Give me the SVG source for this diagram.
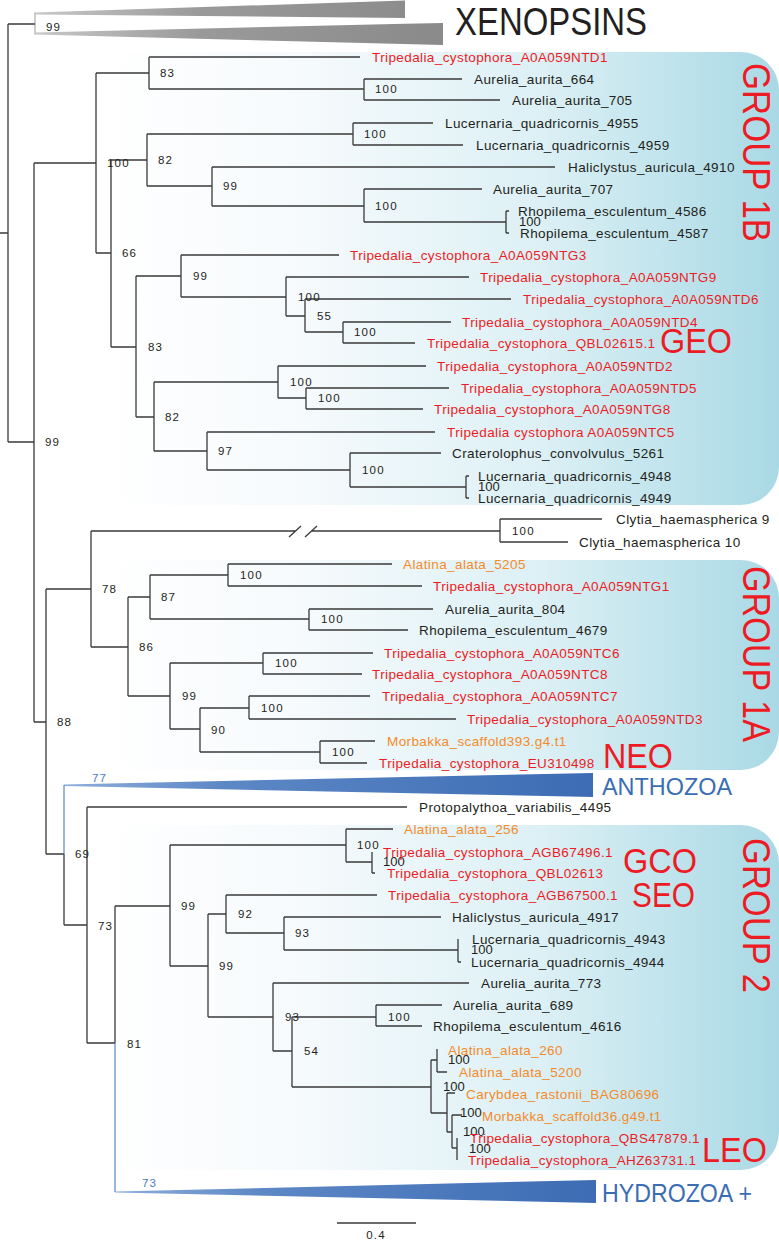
<svg xmlns="http://www.w3.org/2000/svg" width="779" height="1241" viewBox="0 0 779 1241">
<defs>
<linearGradient id="box" gradientUnits="userSpaceOnUse" x1="100" y1="0" x2="779" y2="0">
<stop offset="0" stop-color="#ffffff"/>
<stop offset="0.3" stop-color="#f6fafc"/>
<stop offset="0.65" stop-color="#dcf0f5"/>
<stop offset="1" stop-color="#a9d9e5"/>
</linearGradient>
<linearGradient id="gray" gradientUnits="userSpaceOnUse" x1="35" y1="0" x2="443" y2="0">
<stop offset="0" stop-color="#c8c8c8"/>
<stop offset="0.4" stop-color="#9a9a9a"/>
<stop offset="1" stop-color="#8a8a8a"/>
</linearGradient>
<linearGradient id="blueA" gradientUnits="userSpaceOnUse" x1="64" y1="0" x2="593" y2="0">
<stop offset="0" stop-color="#8eaedb"/>
<stop offset="0.3" stop-color="#5d88c6"/>
<stop offset="1" stop-color="#3d6cb4"/>
</linearGradient>
<linearGradient id="blueH" gradientUnits="userSpaceOnUse" x1="115" y1="0" x2="596" y2="0">
<stop offset="0" stop-color="#8eaedb"/>
<stop offset="0.3" stop-color="#5d88c6"/>
<stop offset="1" stop-color="#3d6cb4"/>
</linearGradient>
<style>
.br{fill:none;stroke:#3a3a3a;stroke-width:1.3}
.bb{fill:none;stroke:#4a7cc0;stroke-width:1.1}
.lf{font-family:"Liberation Sans",Arial,Helvetica,sans-serif;font-size:13.5px;letter-spacing:0.4px;fill:#231f20}
.r{fill:#ed1c24}
.o{fill:#f48b2a}
.sv{font-family:"Liberation Sans",Arial,Helvetica,sans-serif;font-size:11.5px;letter-spacing:1.2px;fill:#231f20}
.sm{font-family:"Liberation Sans",Arial,Helvetica,sans-serif;font-size:13px;fill:#231f20}
.bsv{font-family:"Liberation Sans",Arial,Helvetica,sans-serif;font-size:11.5px;letter-spacing:1.2px;fill:#4a7cc0}
.big{font-family:"Liberation Sans",Arial,Helvetica,sans-serif;fill:#ed1c24}
.blu{font-family:"Liberation Sans",Arial,Helvetica,sans-serif;fill:#3b6db4}
.grp{fill:url(#box)}
</style>
</defs>
<rect width="779" height="1241" fill="#ffffff"/>

<g id="group-1B-box"><rect class="grp" x="100" y="52" width="679" height="453" rx="38"/></g>
<g id="group-1A-box"><rect class="grp" x="100" y="560" width="679" height="210" rx="38"/></g>
<g id="group-2-box"><rect class="grp" x="100" y="825" width="679" height="345" rx="38"/></g>

<g id="xenopsins">
<polygon points="35,12.5 405,0.5 405,18 35,14.5" fill="url(#gray)"/>
<polygon points="35,32.5 405,23.8 443,23 443,45 35,34.5" fill="url(#gray)"/>
<line x1="35" y1="12.5" x2="35" y2="34.5" stroke="#bdbdbd" stroke-width="1.5"/>
<text x="46" y="31" class="sv">99</text>
<text x="455" y="35" class="big" style="fill:#231f20" font-size="39" textLength="192" lengthAdjust="spacingAndGlyphs">XENOPSINS</text>
</g>

<g id="anthozoa">
<polygon points="64,784.5 593,773 593,797 64,786" fill="url(#blueA)"/>
<text x="92" y="782" class="bsv">77</text>
<text x="602" y="795" class="blu" font-size="24" textLength="130" lengthAdjust="spacingAndGlyphs">ANTHOZOA</text>
</g>

<g id="hydrozoa">
<polygon points="115,1191.5 596,1180 596,1203 115,1192.5" fill="url(#blueH)"/>
<text x="142" y="1187" class="bsv">73</text>
<text x="602" y="1202" class="blu" font-size="26" textLength="150" lengthAdjust="spacingAndGlyphs">HYDROZOA +</text>
</g>

<g id="connectors">
<path class="br" d="M0,233H8 M8,24V442 M8,24H35 M8,442H34
M34,163V722 M34,163H96 M34,722H46
M96,73V253 M96,73H149 M96,253H111
M149,57V89 M149,57H360 M149,89H364
M364,79V100 M364,79H462 M364,100H500
M111,160V347 M111,160H147 M111,347H136
M147,134V186 M147,134H353 M147,186H212
M353,123V145 M353,123H433 M353,145H463
M212,167V206 M212,167H555 M212,206H364
M364,189V222 M364,189H482 M364,222H506
M506,211V233 M506,211H509 M506,233H509
M136,276V417 M136,276H181 M136,417H154
M181,255V297 M181,255H339 M181,297H286
M286,277V316 M286,277H469 M286,316H305
M305,299V332 M305,299H511 M305,332H343
M343,322V343 M343,322H451 M343,343H415
M154,382V451 M154,382H278 M154,451H207
M278,366V398 M278,366H426 M278,398H306
M306,388V409 M306,388H449 M306,409H423
M207,432V470 M207,432H435 M207,470H350
M350,453V487 M350,453H441 M350,487H466
M466,476V498 M466,476H469 M466,498H469
M46,589V854 M46,589H91 M46,854H64
M91,531V647 M91,531H295 M311,531H500 M91,647H128
M289,537L301,526 M305,537L317,526
M500,519V542 M500,519H602 M500,542H568
M128,597V696 M128,597H150 M128,696H170
M150,575V619 M150,575H228 M150,619H309
M228,564V586 M228,564H392 M228,586H422
M309,609V630 M309,609H433 M309,630H408
M170,663V729 M170,663H263 M170,729H200
M263,653V674 M263,653H373 M263,674H362
M200,708V752 M200,708H249 M200,752H320
M249,696V719 M249,696H370 M249,719H456
M320,741V763 M320,741H375 M320,763H367
M64,854V925 M64,925H87
M87,807V1043 M87,807H407 M87,1043H115
M115,906V1043 M115,906H170
M170,845V966 M170,845H346 M170,966H208
M346,829V862 M346,829H393 M346,862H372
M372,852V873 M372,873H375
M208,914V1017 M208,914H226 M208,1017H273
M226,895V933 M226,895H377 M226,933H284
M284,917V950 M284,917H441 M284,950H458
M458,939V962 M458,962H461
M273,983V1051 M273,983H469 M273,1051H292
M292,1017V1087 M292,1017H376 M292,1087H431
M376,1005V1026 M376,1005H442 M376,1026H422
M431,1060V1113 M431,1060H437 M431,1113H447
M437,1049V1072 M437,1072H447
M447,1093V1132 M447,1093H455 M447,1132H452
M452,1115V1148 M452,1115H462 M452,1148H457
M457,1138V1160"/>
<path class="bb" d="M64,785V854 M115,1043V1192"/>
</g>

<g id="support-values">
<text class="sv" x="107" y="167">100</text>
<text class="sv" x="160" y="77">83</text>
<text class="sv" x="375" y="93">100</text>
<text class="sv" x="158" y="164">82</text>
<text class="sv" x="364" y="138">100</text>
<text class="sv" x="223" y="190">99</text>
<text class="sv" x="375" y="210">100</text>
<text class="sv" x="122" y="257">66</text>
<text class="sv" x="193" y="280">99</text>
<text class="sv" x="298" y="301">100</text>
<text class="sv" x="317" y="320">55</text>
<text class="sv" x="354" y="336">100</text>
<text class="sv" x="148" y="351">83</text>
<text class="sv" x="290" y="386">100</text>
<text class="sv" x="318" y="402">100</text>
<text class="sv" x="165" y="421">82</text>
<text class="sv" x="45" y="446">99</text>
<text class="sv" x="218" y="455">97</text>
<text class="sv" x="362" y="474">100</text>
<text class="sv" x="512" y="535">100</text>
<text class="sv" x="102" y="593">78</text>
<text class="sv" x="240" y="579">100</text>
<text class="sv" x="161" y="601">87</text>
<text class="sv" x="321" y="623">100</text>
<text class="sv" x="139" y="651">86</text>
<text class="sv" x="275" y="667">100</text>
<text class="sv" x="182" y="700">99</text>
<text class="sv" x="261" y="712">100</text>
<text class="sv" x="57" y="726">88</text>
<text class="sv" x="211" y="734">90</text>
<text class="sv" x="332" y="756">100</text>
<text class="sv" x="75" y="858">69</text>
<text class="sv" x="357" y="849">100</text>
<text class="sv" x="181" y="910">99</text>
<text class="sv" x="238" y="918">92</text>
<text class="sv" x="98" y="930">73</text>
<text class="sv" x="295" y="937">93</text>
<text class="sv" x="219" y="970">99</text>
<text class="sv" x="285" y="1021">93</text>
<text class="sv" x="388" y="1021">100</text>
<text class="sv" x="127" y="1048">81</text>
<text class="sv" x="304" y="1055">54</text>
<text class="sm" x="519" y="226">100</text>
<text class="sm" x="478" y="491">100</text>
<text class="sm" x="383" y="866">100</text>
<text class="sm" x="471" y="954">100</text>
<text class="sm" x="448" y="1064">100</text>
<text class="sm" x="443" y="1091">100</text>
<text class="sm" x="460" y="1117">100</text>
<text class="sm" x="463" y="1136">100</text>
<text class="sm" x="469" y="1153">100</text>
</g>

<g id="leaf-NTD1"><text class="lf r" x="372" y="62">Tripedalia_cystophora_A0A059NTD1</text></g>
<g id="leaf-Aa664"><text class="lf" x="474" y="84">Aurelia_aurita_664</text></g>
<g id="leaf-Aa705"><text class="lf" x="512" y="105">Aurelia_aurita_705</text></g>
<g id="leaf-Lq4955"><text class="lf" x="445" y="128">Lucernaria_quadricornis_4955</text></g>
<g id="leaf-Lq4959"><text class="lf" x="476" y="150">Lucernaria_quadricornis_4959</text></g>
<g id="leaf-Ha4910"><text class="lf" x="568" y="172">Haliclystus_auricula_4910</text></g>
<g id="leaf-Aa707"><text class="lf" x="493" y="194">Aurelia_aurita_707</text></g>
<g id="leaf-Re4586"><text class="lf" x="518" y="216">Rhopilema_esculentum_4586</text></g>
<g id="leaf-Re4587"><text class="lf" x="520" y="238">Rhopilema_esculentum_4587</text></g>
<g id="leaf-NTG3"><text class="lf r" x="350" y="260">Tripedalia_cystophora_A0A059NTG3</text></g>
<g id="leaf-NTG9"><text class="lf r" x="480" y="282">Tripedalia_cystophora_A0A059NTG9</text></g>
<g id="leaf-NTD6"><text class="lf r" x="523" y="304">Tripedalia_cystophora_A0A059NTD6</text></g>
<g id="leaf-NTD4"><text class="lf r" x="462" y="327">Tripedalia_cystophora_A0A059NTD4</text></g>
<g id="leaf-QBL02615"><text class="lf r" x="427" y="348">Tripedalia_cystophora_QBL02615.1</text></g>
<g id="leaf-NTD2"><text class="lf r" x="437" y="371">Tripedalia_cystophora_A0A059NTD2</text></g>
<g id="leaf-NTD5"><text class="lf r" x="461" y="393">Tripedalia_cystophora_A0A059NTD5</text></g>
<g id="leaf-NTG8"><text class="lf r" x="434" y="414">Tripedalia_cystophora_A0A059NTG8</text></g>
<g id="leaf-NTC5"><text class="lf r" x="447" y="437">Tripedalia cystophora A0A059NTC5</text></g>
<g id="leaf-Cc5261"><text class="lf" x="452" y="458">Craterolophus_convolvulus_5261</text></g>
<g id="leaf-Lq4948"><text class="lf" x="478" y="481">Lucernaria_quadricornis_4948</text></g>
<g id="leaf-Lq4949"><text class="lf" x="478" y="503">Lucernaria_quadricornis_4949</text></g>
<g id="leaf-Ch9"><text class="lf" x="616" y="524">Clytia_haemaspherica 9</text></g>
<g id="leaf-Ch10"><text class="lf" x="579" y="547">Clytia_haemaspherica 10</text></g>
<g id="leaf-Aal5205"><text class="lf o" x="403" y="569">Alatina_alata_5205</text></g>
<g id="leaf-NTG1"><text class="lf r" x="433" y="591">Tripedalia_cystophora_A0A059NTG1</text></g>
<g id="leaf-Aa804"><text class="lf" x="445" y="614">Aurelia_aurita_804</text></g>
<g id="leaf-Re4679"><text class="lf" x="419" y="635">Rhopilema_esculentum_4679</text></g>
<g id="leaf-NTC6"><text class="lf r" x="384" y="658">Tripedalia_cystophora_A0A059NTC6</text></g>
<g id="leaf-NTC8"><text class="lf r" x="372" y="679">Tripedalia_cystophora_A0A059NTC8</text></g>
<g id="leaf-NTC7"><text class="lf r" x="382" y="701">Tripedalia_cystophora_A0A059NTC7</text></g>
<g id="leaf-NTD3"><text class="lf r" x="467" y="724">Tripedalia_cystophora_A0A059NTD3</text></g>
<g id="leaf-Mb393"><text class="lf o" x="387" y="746">Morbakka_scaffold393.g4.t1</text></g>
<g id="leaf-EU310498"><text class="lf r" x="379" y="768">Tripedalia_cystophora_EU310498</text></g>
<g id="leaf-Pv4495"><text class="lf" x="419" y="812">Protopalythoa_variabilis_4495</text></g>
<g id="leaf-Aal256"><text class="lf o" x="404" y="834">Alatina_alata_256</text></g>
<g id="leaf-AGB67496"><text class="lf r" x="383" y="857">Tripedalia_cystophora_AGB67496.1</text></g>
<g id="leaf-QBL02613"><text class="lf r" x="387" y="878">Tripedalia_cystophora_QBL02613</text></g>
<g id="leaf-AGB67500"><text class="lf r" x="388" y="900">Tripedalia_cystophora_AGB67500.1</text></g>
<g id="leaf-Ha4917"><text class="lf" x="452" y="922">Haliclystus_auricula_4917</text></g>
<g id="leaf-Lq4943"><text class="lf" x="472" y="944">Lucernaria_quadricornis_4943</text></g>
<g id="leaf-Lq4944"><text class="lf" x="471" y="967">Lucernaria_quadricornis_4944</text></g>
<g id="leaf-Aa773"><text class="lf" x="481" y="988">Aurelia_aurita_773</text></g>
<g id="leaf-Aa689"><text class="lf" x="453" y="1010">Aurelia_aurita_689</text></g>
<g id="leaf-Re4616"><text class="lf" x="433" y="1031">Rhopilema_esculentum_4616</text></g>
<g id="leaf-Aal260"><text class="lf o" x="448" y="1055">Alatina_alata_260</text></g>
<g id="leaf-Aal5200"><text class="lf o" x="459" y="1077">Alatina_alata_5200</text></g>
<g id="leaf-Cr80696"><text class="lf o" x="466" y="1099">Carybdea_rastonii_BAG80696</text></g>
<g id="leaf-Mb36"><text class="lf o" x="482" y="1121">Morbakka_scaffold36.g49.t1</text></g>
<g id="leaf-QBS47879"><text class="lf r" x="470" y="1143">Tripedalia_cystophora_QBS47879.1</text></g>
<g id="leaf-AHZ63731"><text class="lf r" x="468" y="1165">Tripedalia_cystophora_AHZ63731.1</text></g>

<g id="label-group-1B"><text class="big" font-size="38" transform="translate(743,63) rotate(90)" textLength="179" lengthAdjust="spacingAndGlyphs">GROUP 1B</text></g>
<g id="label-group-1A"><text class="big" font-size="38" transform="translate(743,566) rotate(90)" textLength="176" lengthAdjust="spacingAndGlyphs">GROUP 1A</text></g>
<g id="label-group-2"><text class="big" font-size="38" transform="translate(743,838) rotate(90)" textLength="155" lengthAdjust="spacingAndGlyphs">GROUP 2</text></g>
<g id="label-GEO"><text class="big" font-size="35" x="660" y="353" textLength="72" lengthAdjust="spacingAndGlyphs">GEO</text></g>
<g id="label-NEO"><text class="big" font-size="35" x="603" y="768" textLength="70" lengthAdjust="spacingAndGlyphs">NEO</text></g>
<g id="label-GCO"><text class="big" font-size="35" x="623" y="873" textLength="74" lengthAdjust="spacingAndGlyphs">GCO</text></g>
<g id="label-SEO"><text class="big" font-size="35" x="632" y="907" textLength="63" lengthAdjust="spacingAndGlyphs">SEO</text></g>
<g id="label-LEO"><text class="big" font-size="35" x="702" y="1162" textLength="65" lengthAdjust="spacingAndGlyphs">LEO</text></g>

<g id="scale-bar">
<path class="br" d="M337,1223H416"/>
<text class="sv" x="376" y="1239" text-anchor="middle">0.4</text>
</g>
</svg>
